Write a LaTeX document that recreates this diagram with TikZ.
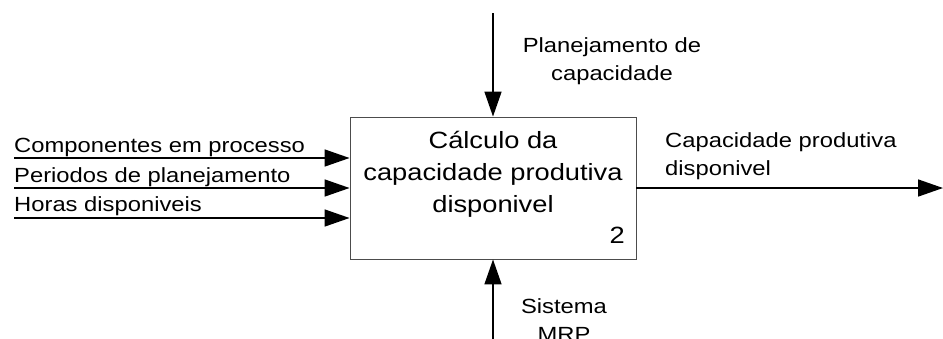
\documentclass[tikz,border=0pt]{standalone}
\usepackage{fontspec}
\setmainfont{Liberation Sans}[FakeStretch=1.16]
\usetikzlibrary{arrows.meta}
\tikzset{
  flow/.style={line width=1.6bp, -{Triangle[length=25bp,width=17bp]}},
  lab/.style={inner sep=0pt, anchor=base west, font=\fontsize{20.5bp}{28bp}\selectfont},
  labc/.style={inner sep=0pt, anchor=base, font=\fontsize{20.5bp}{28bp}\selectfont},
  boxtxt/.style={inner sep=0pt, anchor=base, font=\fontsize{23.5bp}{32bp}\selectfont},
  procbox/.style={draw=black!70, line width=0.9bp, minimum width=286bp, minimum height=142bp, inner sep=0pt}
}
\begin{document}
\begin{tikzpicture}[x=1bp,y=-1bp]
\useasboundingbox (0,0) rectangle (943,338);
\clip (0,0) rectangle (943,338);
\node[procbox] (proc) at (493,188) {};
\node[boxtxt] (t1) at (493,148) {Cálculo da};
\node[boxtxt] (t2) at (493,180) {capacidade produtiva};
\node[boxtxt] (t3) at (493,212) {disponivel};
\node[boxtxt, anchor=base east] (num) at (625,243) {2};
% inputs
\coordinate (i1) at (14,158);
\coordinate (i2) at (14,188);
\coordinate (i3) at (14,218);
\draw[flow] (i1) -- (proc.west |- i1);
\draw[flow] (i2) -- (proc.west |- i2);
\draw[flow] (i3) -- (proc.west |- i3);
\node[lab] (l1) at (14,152) {Componentes em processo};
\node[lab] (l2) at (14,182) {Periodos de planejamento};
\node[lab] (l3) at (14,211) {Horas disponiveis};
% control
\coordinate (c0) at (493,13);
\draw[flow] (c0) -- (proc.north);
\node[labc] (c1) at (612,52) {Planejamento de};
\node[labc] (c2) at (612,80) {capacidade};
% mechanism
\coordinate (m0) at (493,340);
\draw[flow] (m0) -- (proc.south);
\node[labc] (m1) at (564,313) {Sistema};
\node[labc] (m2) at (564,341) {MRP};
% output
\coordinate (o0) at (943,188);
\draw[flow] (proc.east |- o0) -- (o0);
\node[lab] (o1) at (665,147) {Capacidade produtiva};
\node[lab] (o2) at (665,175) {disponivel};
\end{tikzpicture}
\end{document}
